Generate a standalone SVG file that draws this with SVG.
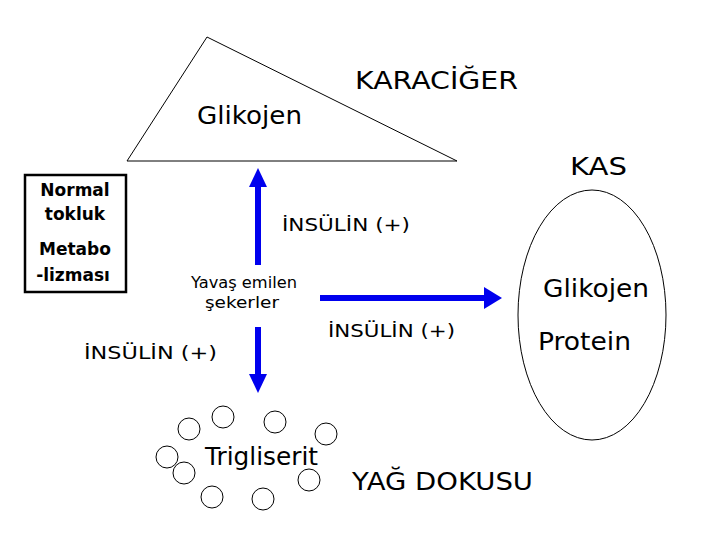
<svg xmlns="http://www.w3.org/2000/svg" width="720" height="540" viewBox="0 0 720 540">
<style>
text{font-family:"DejaVu Sans","Liberation Sans",sans-serif;fill:#000}
.big{font-size:24px}
.mid{font-size:17px}
.box{font-size:17px;font-weight:bold;text-anchor:middle}
.sm{font-size:15px}
.ln{fill:none;stroke:#000;stroke-width:1}
.arr{stroke:#0000ee;stroke-width:6;fill:none}
.hd{fill:#0000ee}
</style>
<rect width="720" height="540" fill="#fff"/>
<g id="liver">
<polygon class="ln" points="207,37 127,161 457,161"/>
<text class="big" x="197" y="124" textLength="105" lengthAdjust="spacingAndGlyphs">Glikojen</text>
<text class="big" x="355" y="89" textLength="163" lengthAdjust="spacingAndGlyphs">KARACİĞER</text>
</g>
<g id="box">
<rect x="25" y="175" width="101" height="117" fill="#fff" stroke="#000" stroke-width="2.5"/>
<text class="box" x="75" y="196">Normal</text>
<text class="box" x="75" y="220">tokluk</text>
<text class="box" x="75" y="255">Metabo</text>
<text class="box" x="73" y="281">-lizması</text>
</g>
<g id="muscle">
<text class="big" x="570" y="175" textLength="57" lengthAdjust="spacingAndGlyphs">KAS</text>
<ellipse class="ln" cx="592" cy="315" rx="74" ry="125"/>
<text class="big" x="543" y="297" textLength="106" lengthAdjust="spacingAndGlyphs">Glikojen</text>
<text class="big" x="538" y="350" textLength="93" lengthAdjust="spacingAndGlyphs">Protein</text>
</g>
<g id="source">
<text class="sm" x="191" y="288" textLength="106" lengthAdjust="spacingAndGlyphs">Yavaş emilen</text>
<text class="sm" x="205" y="308" textLength="74" lengthAdjust="spacingAndGlyphs">şekerler</text>
</g>
<g id="fat">
<circle class="ln" cx="189" cy="429" r="11"/>
<circle class="ln" cx="223" cy="417" r="11"/>
<circle class="ln" cx="275" cy="422" r="11"/>
<circle class="ln" cx="326" cy="434" r="11"/>
<circle class="ln" cx="167" cy="457" r="11"/>
<circle class="ln" cx="184" cy="473" r="11"/>
<circle class="ln" cx="309" cy="480" r="11"/>
<circle class="ln" cx="212" cy="497" r="11"/>
<circle class="ln" cx="263" cy="499" r="11"/>
<text class="big" x="205" y="465" textLength="113" lengthAdjust="spacingAndGlyphs">Trigliserit</text>
<text class="big" x="352" y="490" textLength="181" lengthAdjust="spacingAndGlyphs">YAĞ DOKUSU</text>
</g>
<g id="connectors">
<line class="arr" x1="258" y1="265" x2="258" y2="185"/>
<polygon class="hd" points="258,168 267,187 249,187"/>
<line class="arr" x1="258" y1="327" x2="258" y2="376"/>
<polygon class="hd" points="258,393 249,374 267,374"/>
<line class="arr" x1="320" y1="298" x2="486" y2="298"/>
<polygon class="hd" points="502,298 484,287 484,309"/>
<text class="mid" x="282" y="231" textLength="128" lengthAdjust="spacingAndGlyphs">İNSÜLİN (+)</text>
<text class="mid" x="328" y="337" textLength="127" lengthAdjust="spacingAndGlyphs">İNSÜLİN (+)</text>
<text class="mid" x="84" y="359" textLength="133" lengthAdjust="spacingAndGlyphs">İNSÜLİN (+)</text>
</g>
</svg>
